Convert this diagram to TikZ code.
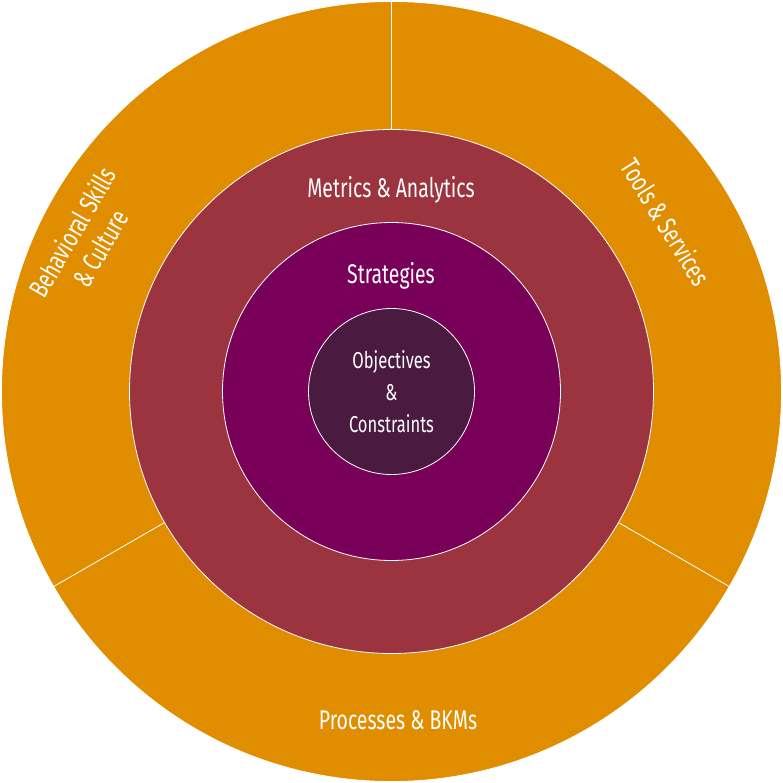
\documentclass[tikz,border=0pt]{standalone}
\usepackage{fontspec}
\setmainfont{Fira Sans}[FakeStretch=0.72]
\definecolor{outerc}{HTML}{E08E00}
\definecolor{metc}{HTML}{9C3440}
\definecolor{strc}{HTML}{790059}
\definecolor{objc}{HTML}{4B1A40}
\begin{document}
\begin{tikzpicture}[x=1pt,y=-1pt,
  ring/.style={draw=white,line width=0.8pt},
  lbl/.style={text=white,font=\fontsize{27}{30}\selectfont,align=center}]
\useasboundingbox (0,0) rectangle (783,783);
\coordinate (c) at (391.5,391.5);
\fill[outerc,ring] (c) circle (390);
\draw[white,line width=0.8pt] (c) ++(90:-390) -- ++(90:390);
\draw[white,line width=0.8pt] (c) -- ++(-150:-390);
\draw[white,line width=0.8pt] (c) -- ++(-30:-390);
\node[circle,minimum size=524,fill=metc,ring,inner sep=0] (m) at (c) {};
\node[circle,minimum size=338,fill=strc,ring,inner sep=0] (s) at (c) {};
\node[circle,minimum size=166,fill=objc,ring,inner sep=0,lbl,font=\fontsize{23}{32}\selectfont] (o) at (c) {Objectives\\\&\\Constraints};
\node[lbl] (ml) at (391,190) {Metrics \& Analytics};
\node[lbl] (sl) at (391,276) {Strategies};
\node[lbl] (pl) at (398,720) {Processes \& BKMs};
\node[lbl,rotate=-58] (tl) at (666,222) {Tools \& Services};
\node[lbl,rotate=60,font=\fontsize{27}{32}\selectfont] (bl) at (86,240) {Behavioral Skills\\\& Culture};
\end{tikzpicture}
\end{document}
